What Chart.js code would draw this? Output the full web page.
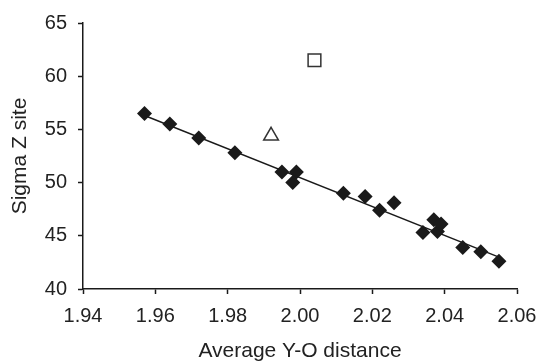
<!DOCTYPE html>
<html><head><meta charset="utf-8">
<script src="https://cdn.jsdelivr.net/npm/chart.js@4/dist/chart.umd.min.js"></script>
<style>html,body{margin:0;padding:0;background:#fff}#wrap{width:539px;height:362px}</style>
</head><body><div id="wrap"><canvas id="c" width="539" height="362"></canvas></div>
<script>
const diamondX = [1.957,1.964,1.972,1.982,1.995,1.999,1.998,2.012,2.018,2.022,2.026,2.034,2.037,2.038,2.039,2.045,2.050,2.055];
const diamondY = [56.5,55.5,54.2,52.8,51.0,51.0,50.0,49.0,48.7,47.4,48.1,45.3,46.5,45.4,46.1,43.9,43.5,42.6];
const triangleX = [1.992];
const triangleY = [54.4];
const squareX = [2.004];
const squareY = [61.5];
const trendX = [1.957, 2.055];
const trendY = [56.3, 43.0];
const xTicks = [1.94,1.96,1.98,2.00,2.02,2.04,2.06];
const yTicks = [40,45,50,55,60,65];

const pts = (xs, ys) => xs.map((x,i)=>({x, y: ys[i]}));
const ink = '#1a1a1a';
const tickFont = {family: "'Liberation Sans', Arial, sans-serif", size: 20};
const titleFont = {family: "'Liberation Sans', Arial, sans-serif", size: 21, lineHeight: 1.0};
const yTitleFont = {family: "'Liberation Sans', Arial, sans-serif", size: 21};

new Chart(document.getElementById('c'), {
  type: 'scatter',
  data: {datasets: [
    {data: pts(diamondX, diamondY), pointStyle: 'rectRot', pointRadius: 7.5, backgroundColor: ink, borderColor: ink, borderWidth: 0},
    {data: pts(triangleX, triangleY), pointStyle: 'triangle', pointRadius: 8.5, backgroundColor: '#fff', borderColor: '#333', borderWidth: 1.5},
    {data: pts(squareX, squareY), pointStyle: 'rect', pointRadius: 9, backgroundColor: '#fff', borderColor: '#333', borderWidth: 1.5},
    {type: 'line', data: pts(trendX, trendY), showLine: true, pointRadius: 0, borderColor: ink, borderWidth: 1.5, fill: false}
  ]},
  options: {
    responsive: false, animation: false, devicePixelRatio: 1,
    layout: {padding: {left: 0, right: 22, top: 23, bottom: 0}},
    plugins: {legend: {display: false}, tooltip: {enabled: false}},
    scales: {
      x: {
        type: 'linear', min: 1.94, max: 2.06,
        afterBuildTicks: s => { s.ticks = xTicks.map(v => ({value: v})); },
        afterFit: s => { s.height = 73; s.paddingLeft = 0; s.paddingRight = 0; },
        grid: {display: true, drawOnChartArea: false, tickLength: 5, tickColor: ink, tickWidth: 1.5},
        border: {display: true, color: ink, width: 1.5},
        ticks: {color: '#222', font: tickFont, padding: 10, maxRotation: 0, autoSkip: false, callback: v => Number(v).toFixed(2)},
        title: {display: true, text: 'Average Y-O distance', color: '#222', font: titleFont, padding: {top: 0, bottom: 0}}
      },
      y: {
        type: 'linear', min: 40, max: 65,
        afterBuildTicks: s => { s.ticks = yTicks.map(v => ({value: v})); },
        afterFit: s => { s.width = 83; s.paddingTop = 0; s.paddingBottom = 0; },
        grid: {display: true, drawOnChartArea: false, tickLength: 5, tickColor: ink, tickWidth: 1.5},
        border: {display: true, color: ink, width: 1.5},
        ticks: {color: '#222', font: tickFont, padding: 11, autoSkip: false, callback: v => String(v)},
        title: {display: true, text: 'Sigma Z site', color: '#222', font: yTitleFont, padding: {top: 8, bottom: 0}}
      }
    }
  }
});
</script></body></html>
